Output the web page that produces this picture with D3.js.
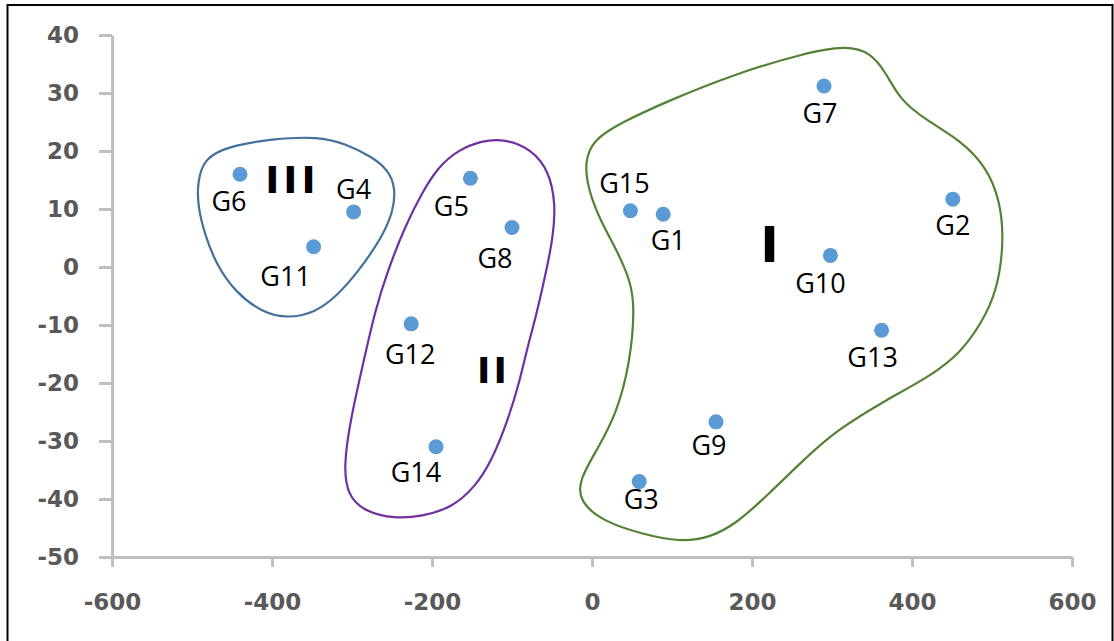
<!DOCTYPE html>
<html>
<head>
<meta charset="utf-8">
<script src="https://cdn.jsdelivr.net/npm/d3@7"></script>
<style>
	body { margin: 0; background: #fff; }
	svg { display: block; }
</style>
</head>
<body>
<svg id="chart" width="1114" height="641"></svg>
<script>
// point data
var names   = ["G1", "G2", "G3", "G4", "G5", "G6", "G7", "G8", "G9", "G10", "G11", "G12", "G13", "G14", "G15"];
var xValues = [89, 451, 59, -298, -152, -440, 290, -100, 155, 298, -348, -226, 362, -195, 48];
var yValues = [9.1, 11.7, -37, 9.5, 15.3, 16, 31.2, 6.8, -26.7, 2, 3.5, -9.8, -10.9, -31, 9.7];

var xTicks = [-600, -400, -200, 0, 200, 400, 600];
var yTicks = [40, 30, 20, 10, 0, -10, -20, -30, -40, -50];

// cluster names and where they sit (data units)
var clusterNames  = ["I", "II", "III"];
var clusterLabelX = [222, -125, -377];
var clusterLabelY = [0.9, -20, 12.8];

// hand drawn cluster outlines, traced in data units
var outlineI = [
	[1.6, 21.9], [35, 24.8], [97.5, 28.8], [181, 33.4], [264, 36.8], [318, 38.2], [348, 37],
	[368, 33.4], [385, 28.8], [418, 25.3], [460, 21.9], [493, 17.3], [510, 11.5], [515, 4.7],
	[507, -4], [486, -9.9], [460, -14.9], [422, -18.9], [368, -22.9], [306, -28.1], [264, -33.3],
	[222, -39], [181, -44.2], [147, -46.7], [110, -47.4], [64, -46.1], [14, -43.9], [-16, -40.4],
	[-16, -36.7], [6, -31.6], [31, -25.2], [47.5, -16.6], [53.7, -6.8], [47.5, -2.2], [31, 2.9],
	[10, 8.1], [-4.6, 13.3], [-9.5, 18.1]
];
var outlineII = [
	[-109, 22.1], [-138, 21.8], [-167, 20.2], [-192, 17.3], [-213, 12.7], [-234, 6.9], [-255, -0.5],
	[-271, -7.4], [-288, -17.8], [-302, -26.4], [-310.5, -34.4], [-305.5, -39.4], [-284, -42.2],
	[-246, -43.4], [-213, -43], [-175, -41.5], [-146, -37.9], [-125, -33.3], [-105, -26.4],
	[-90, -19.5], [-79.6, -13.2], [-71, -9.1], [-58.7, -1.7], [-48.4, 5.2], [-45.5, 11], [-54, 16.6],
	[-75.4, 20.3]
];
var outlineIII = [
	[-342, 22.5], [-400, 22.1], [-455, 20.8], [-485, 18.7], [-493, 14.7], [-493, 10.7], [-484, 5.5],
	[-469, 0.3], [-446, -4.3], [-413, -7.8], [-380, -8.9], [-346, -7.8], [-321, -5.3], [-292, -0.8],
	[-263, 5], [-248.5, 9.5], [-245.5, 13.6], [-254.5, 16.7], [-275, 19], [-309, 21.3]
];

var svg = d3.select("#chart");

svg.append("rect")
	.attr("x", 7.5)
	.attr("y", 5)
	.attr("width", 1105)
	.attr("height", 700)
	.style("fill", "#fff")
	.style("stroke", "#000")
	.style("stroke-width", 2);

var x = d3.scaleLinear().domain([-600, 600]).range([112, 1072]);
var y = d3.scaleLinear().domain([-50, 40]).range([557, 35]);

var axisColor = "#bfbfbf";
var plain = function (d) { return String(d); };

var gx = svg.append("g")
	.attr("transform", "translate(0," + y(-50) + ")")
	.call(d3.axisBottom(x).tickValues(xTicks).tickFormat(plain)
		.tickSize(10).tickSizeOuter(0).tickPadding(27));

var gy = svg.append("g")
	.attr("transform", "translate(" + x(-600) + ",0)")
	.call(d3.axisLeft(y).tickValues(yTicks).tickFormat(plain)
		.tickSize(13).tickSizeOuter(0).tickPadding(20));

[gx, gy].forEach(function (g) {
	g.select(".domain").style("stroke", axisColor).style("stroke-width", 3);
	g.selectAll(".tick line").style("stroke", axisColor).style("stroke-width", 3);
	g.selectAll(".tick text")
		.style("fill", "#595959")
		.style("font-family", "DejaVu Sans")
		.style("font-weight", "bold")
		.style("font-size", "23px");
});

// outlines
var line = d3.line()
	.x(function (d) { return x(d[0]); })
	.y(function (d) { return y(d[1]); })
	.curve(d3.curveBasisClosed);

var outlines = [
	{ pts: outlineI, color: "#548235" },
	{ pts: outlineII, color: "#7030a0" },
	{ pts: outlineIII, color: "#41719c" }
];

outlines.forEach(function (o) {
	svg.append("path")
		.attr("d", line(o.pts))
		.style("fill", "none")
		.style("stroke", o.color)
		.style("stroke-width", 2.2);
});

// points
var points = names.map(function (n, i) {
	return { name: n, x: xValues[i], y: yValues[i] };
});

svg.append("g").selectAll("circle")
	.data(points)
	.enter()
	.append("circle")
	.attr("cx", function (d) { return x(d.x); })
	.attr("cy", function (d) { return y(d.y); })
	.attr("r", 7.5)
	.style("fill", "#5b9bd5");

// label offsets in pixels (text centre, baseline) from each point
var labelOffset = {
	G1: [5, 36], G2: [0, 36], G3: [2, 27], G4: [0, -13], G5: [-19, 38],
	G6: [-11, 37], G7: [-4, 37], G8: [-17, 40], G9: [-7, 33], G10: [-10, 38],
	G11: [-28, 39], G12: [-1, 40], G13: [-9, 37], G14: [-20, 35], G15: [-6, -18]
};

svg.append("g").selectAll("text")
	.data(points)
	.enter()
	.append("text")
	.attr("x", function (d) { return x(d.x) + labelOffset[d.name][0]; })
	.attr("y", function (d) { return y(d.y) + labelOffset[d.name][1]; })
	.attr("text-anchor", "middle")
	.style("font-family", "Open Sans")
	.style("font-size", "27px")
	.style("fill", "#000")
	.text(function (d) { return d.name; });

// cluster numerals
var numeralSize = [50, 36, 38];
var numeralSpacing = [0, 3, 4];
clusterNames.forEach(function (n, i) {
	svg.append("text")
		.attr("x", x(clusterLabelX[i]) + numeralSpacing[i] / 2)
		.attr("y", y(clusterLabelY[i]))
		.attr("text-anchor", "middle")
		.style("font-family", "DejaVu Sans")
		.style("font-weight", "bold")
		.style("font-size", numeralSize[i] + "px")
		.style("letter-spacing", numeralSpacing[i] + "px")
		.style("fill", "#000")
		.text(n);
});
</script>
</body>
</html>
